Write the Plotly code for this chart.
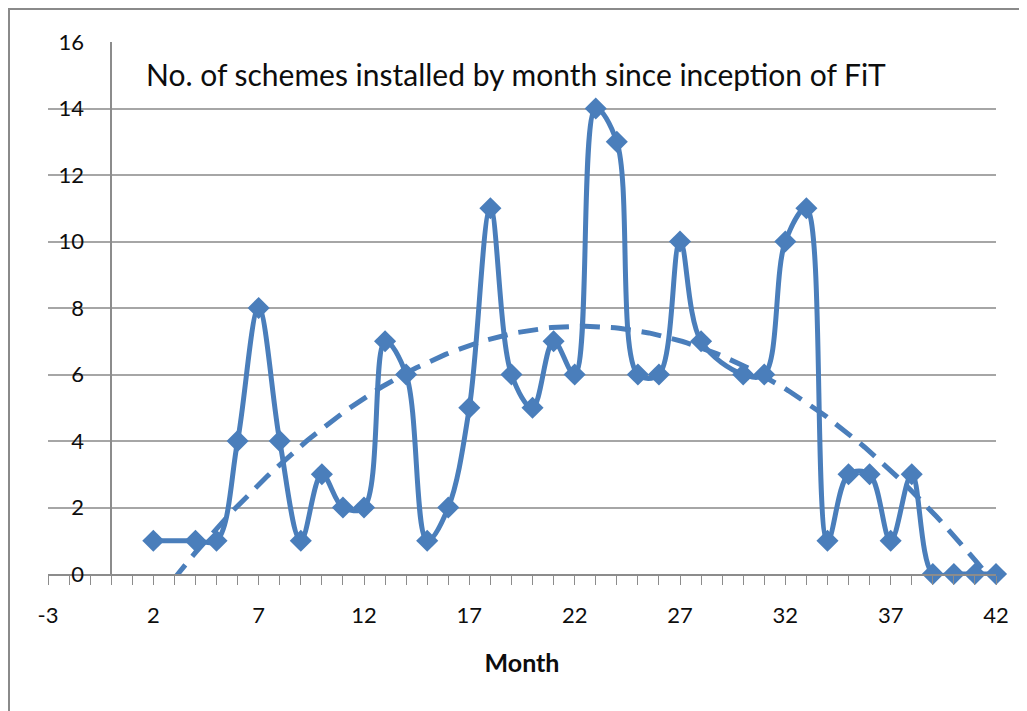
import numpy as np
import plotly.graph_objects as go

# Data
months = [2, 4, 5, 6, 7, 8, 9, 10, 11, 12, 13, 14, 15, 16, 17, 18, 19, 20, 21, 22,
          23, 24, 25, 26, 27, 28, 30, 31, 32, 33, 34, 35, 36, 37, 38, 39, 40, 41, 42]
schemes = [1, 1, 1, 4, 8, 4, 1, 3, 2, 2, 7, 6, 1, 2, 5, 11, 6, 5, 7, 6,
           14, 13, 6, 6, 10, 7, 6, 6, 10, 11, 1, 3, 3, 1, 3, 0, 0, 0, 0]
x_ticks = [-3, 2, 7, 12, 17, 22, 27, 32, 37, 42]
y_ticks = [0, 2, 4, 6, 8, 10, 12, 14, 16]

title_text = "No. of schemes installed by month since inception of FiT"
x_title = "Month"

# Polynomial (order 2) trendline fitted to the data, as in the original
coef = np.polyfit(months, schemes, 2)
trend_x = np.linspace(min(months), max(months), 200)
trend_y = np.polyval(coef, trend_x)

blue = "#4a7ebb"
grid = "#a6a6a6"
axis_col = "#8c8c8c"
font_family = "Lato"
txt = "#0d0d0d"

fig = go.Figure()
fig.add_trace(go.Scatter(
    x=trend_x, y=trend_y, mode="lines",
    line=dict(color=blue, width=5, dash="20px,11px", shape="linear"),
    hoverinfo="skip", showlegend=False,
))
fig.add_trace(go.Scatter(
    x=months, y=schemes, mode="lines+markers",
    line=dict(color=blue, width=5, shape="spline", smoothing=1),
    marker=dict(symbol="diamond", size=17, color=blue),
    cliponaxis=False, showlegend=False,
))

# page body has an 8px margin, so the figure is offset by 8px
W, H = 1019, 703
L, T = 40, 34
R = W - 988
B = H - 566
pw, ph = W - L - R, H - T - B

fig.update_layout(
    width=W, height=H,
    margin=dict(l=L, r=R, t=T, b=B, autoexpand=False),
    paper_bgcolor="white", plot_bgcolor="white",
    font=dict(family=font_family, color=txt),
    showlegend=False,
    xaxis=dict(
        range=[-3, 42], tickmode="array", tickvals=x_ticks,
        ticktext=[str(v) for v in x_ticks],
        showgrid=False, zeroline=False,
        showline=True, linecolor=axis_col, linewidth=1.5,
        ticks="outside", ticklen=9, tickcolor=axis_col, tickwidth=1.2,
        minor=dict(dtick=1, tick0=-3, ticks="outside", ticklen=9,
                   tickcolor=axis_col, tickwidth=1.2, showgrid=False),
        tickfont=dict(size=22, family=font_family, color=txt),
        ticklabelstandoff=12,
        title=dict(text="<b>" + x_title + "</b>",
                   font=dict(size=25, family=font_family, color=txt),
                   standoff=27),
        automargin=False,
    ),
    yaxis=dict(
        range=[0, 16], tickmode="array", tickvals=y_ticks,
        ticktext=[str(v) for v in y_ticks],
        anchor="free", position=3 / 45,
        showgrid=True, gridcolor=grid, gridwidth=1.5,
        zeroline=False, showline=True, linecolor=axis_col, linewidth=1.5,
        ticks="", tickfont=dict(size=22, family=font_family, color=txt),
        ticklabelstandoff=22,
        automargin=False,
    ),
    shapes=[dict(type="rect", xref="paper", yref="paper",
                 x0=(1 - L) / pw, x1=1.1, y0=-0.3, y1=(H - B - 1) / ph,
                 line=dict(color="#8a8a8a", width=2), layer="below")],
    annotations=[dict(text=title_text, xref="paper", yref="paper",
                      x=(508 - L) / pw, y=(H - B - 66) / ph,
                      xanchor="center", yanchor="middle", showarrow=False,
                      font=dict(size=30, family=font_family, color=txt))],
)

fig.write_html("out.html")
